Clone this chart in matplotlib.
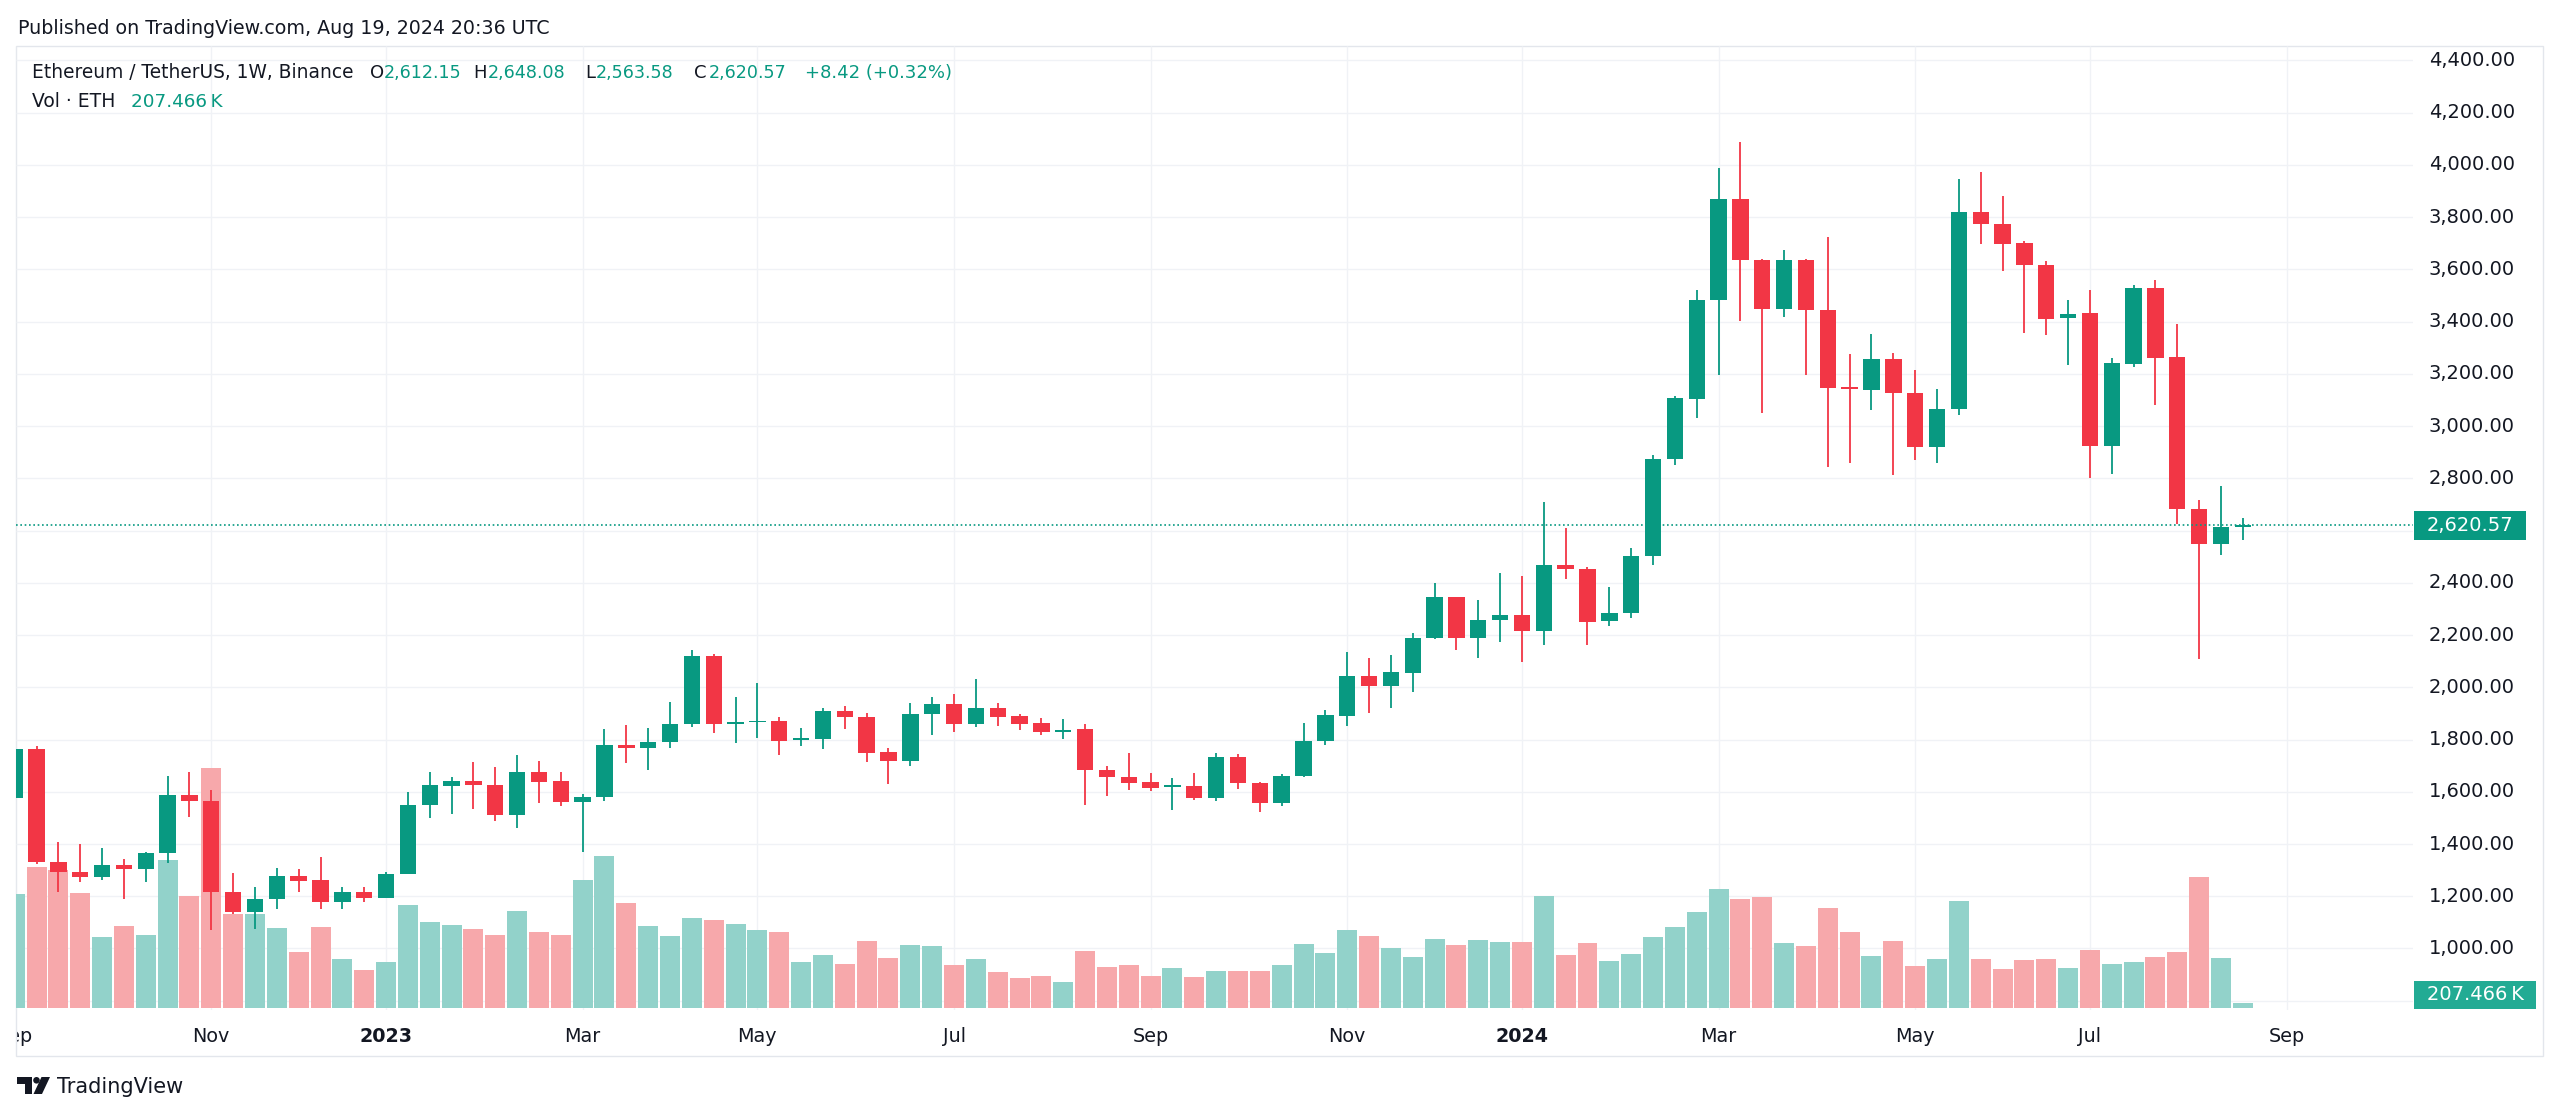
import numpy as np
import pandas as pd
import matplotlib
matplotlib.use("Agg")
import matplotlib.pyplot as plt
import matplotlib.transforms as mtrans
from matplotlib.patches import Rectangle, Polygon, Ellipse

plt.rcParams['font.family'] = ['DejaVu Sans']

# ---------------- data ----------------
week_start = pd.date_range("2022-09-05", "2024-08-19", freq="7D")

opens = [1575, 1764, 1332, 1291, 1275, 1319, 1304, 1364, 1589, 1566,
         1217, 1138, 1189, 1276, 1262, 1179, 1217,
         1195, 1287, 1549, 1623, 1642, 1627, 1511, 1674, 1640, 1562,
         1579, 1779, 1769, 1792, 1858, 2119, 1861, 1868, 1872, 1800,
         1803, 1909, 1888, 1753, 1718, 1896, 1937, 1860, 1921, 1889,
         1863, 1829, 1840, 1684, 1658, 1637, 1620, 1623, 1578, 1733,
         1632, 1558, 1661, 1795, 1890, 2042, 2004, 2056, 2188, 2346,
         2190, 2257,
         2275, 2214, 2467, 2451, 2253, 2283, 2501, 2872, 3105, 3482,
         3870, 3636, 3447, 3636, 3445, 3150, 3139, 3258, 3128, 2919,
         3064, 3819, 3774, 3699, 3618, 3413, 3431, 2922, 3237, 3530,
         3264, 2681, 2549, 2612.15]
highs = [1790, 1777, 1409, 1400, 1383, 1342, 1370, 1662, 1677, 1607,
         1289, 1234, 1308, 1304, 1349, 1234, 1234,
         1294, 1598, 1677, 1658, 1713, 1696, 1741, 1719, 1674, 1591,
         1840, 1856, 1844, 1943, 2142, 2126, 1963, 2017, 1887, 1846,
         1919, 1928, 1900, 1768, 1938, 1961, 1976, 2030, 1938, 1896,
         1881, 1877, 1859, 1699, 1747, 1670, 1651, 1670, 1750, 1743,
         1636, 1667, 1865, 1912, 2135, 2112, 2125, 2209, 2399, 2347,
         2335, 2439,
         2426, 2710, 2609, 2459, 2385, 2532, 2888, 3116, 3519, 3988,
         4087, 3640, 3674, 3640, 3725, 3274, 3352, 3281, 3215, 3142,
         3944, 3973, 3882, 3709, 3630, 3482, 3519, 3259, 3541, 3560,
         3391, 2717, 2771, 2648.08]
lows = [1560, 1323, 1217, 1253, 1262, 1189, 1253, 1326, 1502, 1072,
        1131, 1074, 1151, 1217, 1153, 1151, 1179,
        1192, 1285, 1498, 1516, 1534, 1489, 1461, 1557, 1547, 1368,
        1566, 1710, 1685, 1766, 1849, 1826, 1787, 1804, 1740, 1776,
        1763, 1840, 1715, 1628, 1699, 1819, 1827, 1847, 1851, 1836,
        1817, 1801, 1549, 1583, 1605, 1602, 1532, 1568, 1564, 1610,
        1521, 1545, 1657, 1778, 1850, 1900, 1920, 1980, 2185, 2141,
        2112, 2173,
        2096, 2162, 2415, 2162, 2234, 2265, 2468, 2852, 3030, 3196,
        3403, 3050, 3416, 3196, 2845, 2859, 3062, 2813, 2871, 2859,
        3044, 3696, 3593, 3358, 3350, 3234, 2802, 2815, 3227, 3081,
        2625, 2109, 2505, 2563.58]
closes = [1764, 1332, 1291, 1275, 1319, 1304, 1364, 1589, 1566, 1217,
          1138, 1189, 1276, 1259, 1179, 1217, 1195,
          1287, 1549, 1626, 1642, 1626, 1511, 1674, 1639, 1562, 1579,
          1779, 1768, 1792, 1858, 2119, 1861, 1868, 1872, 1796, 1807,
          1909, 1888, 1750, 1718, 1898, 1937, 1860, 1921, 1887, 1861,
          1828, 1838, 1683, 1657, 1634, 1615, 1626, 1578, 1733, 1632,
          1558, 1661, 1795, 1892, 2042, 2004, 2057, 2190, 2346, 2190,
          2257, 2275,
          2214, 2467, 2451, 2251, 2285, 2501, 2874, 3106, 3482, 3870,
          3636, 3447, 3636, 3445, 3147, 3142, 3258, 3128, 2919, 3064,
          3819, 3772, 3696, 3615, 3410, 3428, 2922, 3240, 3530, 3262,
          2681, 2549, 2612.15, 2620.57]
volumes_k = [5130, 6345, 6210, 5175, 3195, 3690, 3285, 6660, 5040, 10800,
             4230, 4230, 3600, 2520, 3645, 2205, 1710,
             2070, 4635, 3870, 3735, 3555, 3285, 4365, 3420, 3285, 5760,
             6840, 4725, 3690, 3240, 4050, 3960, 3780, 3510, 3420, 2070,
             2385, 1980, 3015, 2250, 2835, 2790, 1935, 2205, 1620, 1350,
             1440, 1170, 2565, 1845, 1935, 1440, 1800, 1395, 1665, 1665,
             1665, 1935, 2880, 2475, 3510, 3240, 2700, 2295, 3105, 2835,
             3060, 2970,
             2970, 5040, 2385, 2925, 2115, 2430, 3195, 3645, 4320, 5355,
             4905, 4995, 2925, 2790, 4500, 3420, 2340, 3015, 1890, 2205,
             4815, 2205, 1755, 2160, 2205, 1800, 2610, 1980, 2070, 2295,
             2520, 5895, 2250, 207.466]

month_dates = ["2022-09-05", "2022-11-07", "2023-01-02", "2023-03-06", "2023-05-01",
               "2023-07-03", "2023-09-04", "2023-11-06", "2024-01-01", "2024-03-04",
               "2024-05-06", "2024-07-01", "2024-09-02"]
month_labels = ["Sep", "Nov", "2023", "Mar", "May", "Jul", "Sep", "Nov", "2024",
                "Mar", "May", "Jul", "Sep"]
price_labels = [1000, 1200, 1400, 1600, 1800, 2000, 2200, 2400, 2800, 3000,
                3200, 3400, 3600, 3800, 4000, 4200, 4400]
grid_prices = [800, 1000, 1200, 1400, 1600, 1800, 2000, 2200, 2400, 2600, 2800,
               3000, 3200, 3400, 3600, 3800, 4000, 4200, 4400]

# ---------------- style ----------------
UP = "#089981"
DOWN = "#F23645"
UP_VOL = "#92D2CA"
DOWN_VOL = "#F7A8AB"
TXT = "#131722"
GRID = "#F0F2F6"
VOL_BOX = "#22AB94"

W, H = 2560, 1116
fig = plt.figure(figsize=(W / 100, H / 100), dpi=100)
fig.patch.set_facecolor("white")


def rect(x0, y0, x1, y1):
    return [x0 / W, 1 - y1 / H, (x1 - x0) / W, (y1 - y0) / H]


def fxy(px, py):
    return px / W, 1 - py / H


o = np.array(opens, float)
h = np.array(highs, float)
l = np.array(lows, float)
c = np.array(closes, float)
v = np.array(volumes_k, float)
x = np.arange(len(week_start))
up = c >= o

month_x = np.array([(pd.Timestamp(d) - week_start[0]).days / 7 for d in month_dates])

pane = rect(16, 46, 2413, 1010)
ax = fig.add_axes(pane)
axv = fig.add_axes(pane, sharex=ax)
axc = fig.add_axes(pane, sharex=ax, sharey=ax)
for a in (ax, axv, axc):
    a.set_axis_off()
axv.patch.set_visible(False)
axc.patch.set_visible(False)
ax.set_zorder(1)
axv.set_zorder(2)
axc.set_zorder(3)

XLIM = (0.06, 109.79)
ax.set_xlim(*XLIM)
ax.set_ylim(764.5, 4455)
axv.set_ylim(-90, 43290)

# grid
ax.hlines(grid_prices, XLIM[0], XLIM[1], color=GRID, lw=1.0, zorder=0)
ax.vlines(month_x, 764.5, 4455, color=GRID, lw=1.0, zorder=0)

# volume
axv.bar(x, v, width=0.915, color=np.where(up, UP_VOL, DOWN_VOL), linewidth=0)

# candles
cols = np.where(up, UP, DOWN)
axc.vlines(x, l, h, colors=cols, lw=1.3)
axc.bar(x, np.maximum(np.abs(c - o), 4), bottom=np.minimum(o, c), width=0.75,
        color=cols, linewidth=0)

# last price dotted line
axc.axhline(c[-1], color=UP, lw=1.2, ls=(0, (1, 1.6)))

# price axis labels
trans = mtrans.blended_transform_factory(fig.transFigure, ax.transData)
for p in price_labels:
    ax.text(2472 / W, p, f"{p:,.2f}", transform=trans, ha='center', va='center',
            fontsize=14, color=TXT, clip_on=False)

px_per_usd = 964 / (4455 - 764.5)
box_h = 29 / px_per_usd
ax.add_patch(Rectangle((2414 / W, c[-1] - box_h / 2), 112 / W, box_h, transform=trans,
                       facecolor=UP, edgecolor='none', clip_on=False, zorder=5))
ax.text(2470 / W, c[-1], f"{c[-1]:,.2f}", transform=trans, ha='center', va='center',
        fontsize=14, color='white', clip_on=False, zorder=6)

# volume label box
fig.add_artist(Rectangle(fxy(2414, 1009), 122 / W, 28 / H, transform=fig.transFigure,
                         facecolor=VOL_BOX, edgecolor='none'))
fig.text(*fxy(2475, 995), f"{v[-1]:.3f}\u2009K", ha='center', va='center',
         fontsize=14, color='white')

# time axis
axt = fig.add_axes(rect(16, 1010, 2413, 1056), sharex=ax)
axt.set_axis_off()
axt.set_ylim(0, 1)
for mx, lab in zip(month_x, month_labels):
    bold = lab.isdigit()
    axt.text(mx, (1056 - 1042) / 46, lab, ha='center', va='baseline', fontsize=13.8,
             color=TXT, fontweight='bold' if bold else 'normal', clip_on=True)

# frame
fig.add_artist(Rectangle(fxy(16, 1056), (2543 - 16) / W, (1056 - 46) / H,
                         transform=fig.transFigure, fill=False,
                         edgecolor="#E3E6EC", lw=1.0))

# header
fig.text(*fxy(18, 33.5), "Published on TradingView.com, Aug 19, 2024 20:36 UTC",
         fontsize=13.7, color=TXT, va='baseline')
chg = c[-1] - c[-2]
pct = chg / c[-2] * 100
pieces = [("Ethereum / TetherUS, 1W, Binance", 32, TXT, 13.4),
          ("O", 370, TXT, 13), (f"{o[-1]:,.2f}", 384, UP, 12.6),
          ("H", 473, TXT, 13), (f"{h[-1]:,.2f}", 488, UP, 12.6),
          ("L", 585, TXT, 13), (f"{l[-1]:,.2f}", 596, UP, 12.6),
          ("C", 694, TXT, 13), (f"{c[-1]:,.2f}", 709, UP, 12.6),
          (f"{chg:+.2f} ({pct:+.2f}%)", 805, UP, 13)]
for s, px, col, fs in pieces:
    fig.text(*fxy(px, 78.3), s, fontsize=fs, color=col, va='baseline')
fig.text(*fxy(32, 107.3), "Vol \u00b7 ETH", fontsize=13.5, color=TXT, va='baseline')
fig.text(*fxy(131, 107.3), f"{v[-1]:.3f}\u2009K", fontsize=13.2, color=UP, va='baseline')

# TradingView logo
def poly(pts, col):
    fig.add_artist(Polygon([fxy(a, b) for a, b in pts], closed=True,
                           transform=fig.transFigure, facecolor=col, edgecolor='none'))

poly([(17, 1077), (31.7, 1077), (31.7, 1094), (24.5, 1094), (24.5, 1083.5), (17, 1083.5)], TXT)
fig.add_artist(Ellipse(fxy(36.5, 1080.3), 6.6 / W, 6.6 / H, transform=fig.transFigure,
                       facecolor=TXT, edgecolor='none'))
poly([(41.5, 1077), (50, 1077), (42, 1094), (33.5, 1094)], TXT)
fig.text(*fxy(57, 1093), "TradingView", fontsize=15, color=TXT, va='baseline')

fig.savefig("out.png", dpi=100, facecolor="white")
